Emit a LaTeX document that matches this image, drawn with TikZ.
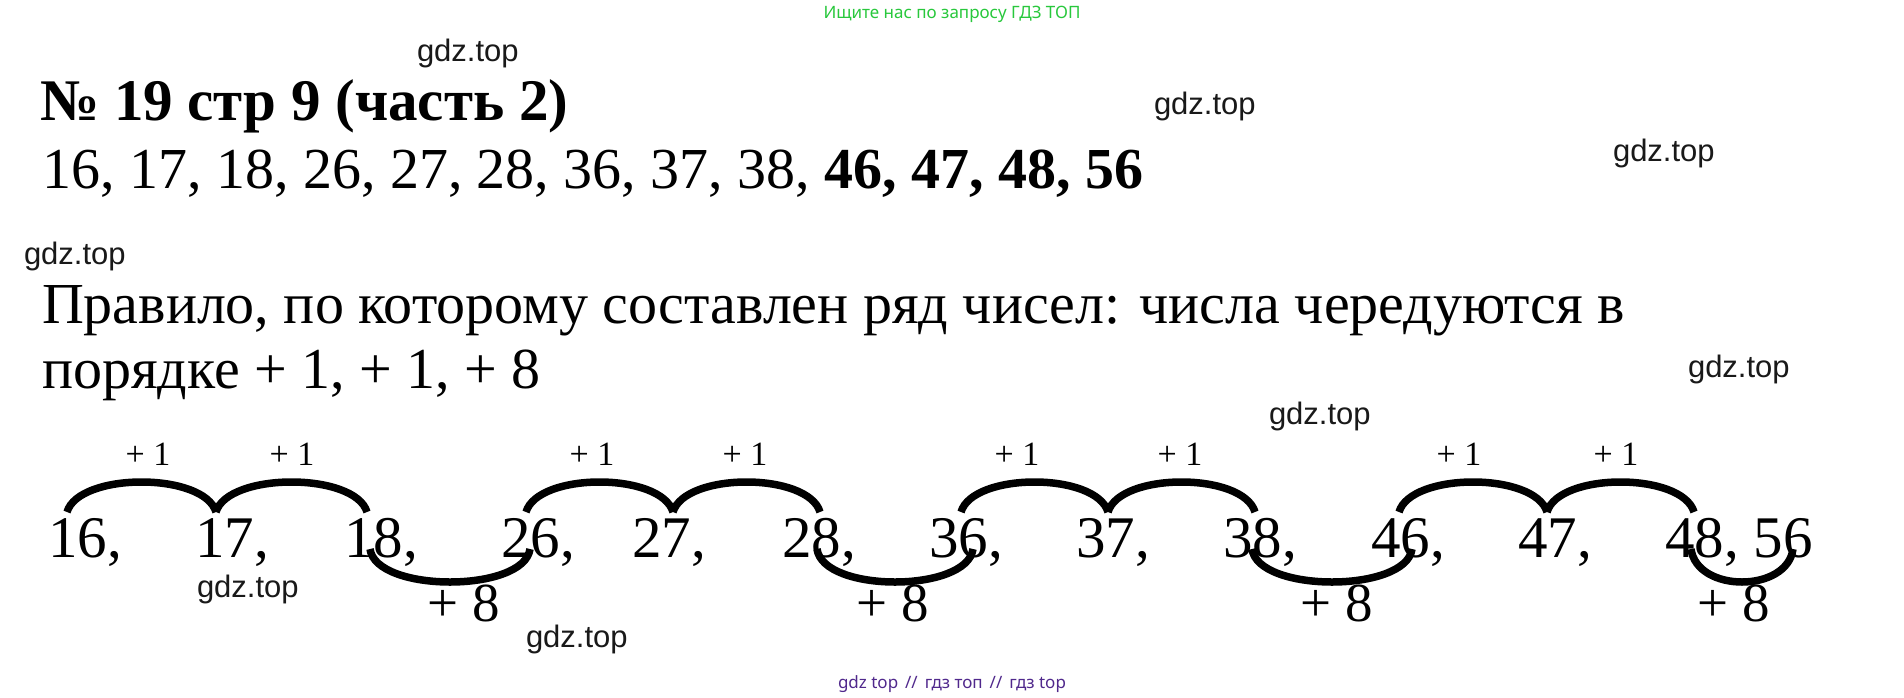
\documentclass[tikz,border=0pt]{standalone}
\usepackage{fontspec}
\setmainfont{Liberation Serif}
\newfontfamily\wmfont{Liberation Sans}
\newfontfamily\nsfont{Noto Sans}
\definecolor{wmgreen}{RGB}{40,200,60}
\definecolor{wmpurple}{RGB}{80,40,140}
\definecolor{wmgray}{RGB}{25,25,25}
\begin{document}
\begin{tikzpicture}[x=1pt,y=-1pt,
  txt/.style={inner sep=0pt,outer sep=0pt,anchor=base west},
  big/.style={txt,font=\fontsize{58}{58}\selectfont},
  num/.style={txt,font=\fontsize{59}{59}\selectfont},
  plusone/.style={inner sep=0pt,anchor=base,font=\fontsize{34}{34}\selectfont},
  pluseight/.style={inner sep=0pt,anchor=base,font=\fontsize{55}{55}\selectfont},
  wm/.style={txt,text=wmgray,font=\wmfont\fontsize{31}{31}\selectfont},
  arcline/.style={line width=7.5pt,black}]
\path[fill=white,use as bounding box] (0,0) rectangle (1904,697);

% watermarks
\node[inner sep=0pt,anchor=base,text=wmgreen,font=\nsfont\fontsize{17}{17}\selectfont] (top) at (952,18) {Ищите нас по запросу ГДЗ ТОП};
\node[txt,text=wmpurple,font=\nsfont\fontsize{17}{17}\selectfont] (bottom) at (838,688) {gdz top\hspace{0.15em} //\hspace{0.15em} гдз топ\hspace{0.15em} //\hspace{0.15em} гдз top};
\node[wm] (w1) at (417,61) {gdz.top};
\node[wm] (w2) at (1154,114) {gdz.top};
\node[wm] (w3) at (1613,161) {gdz.top};
\node[wm] (w4) at (24,264) {gdz.top};
\node[wm] (w5) at (1688,377) {gdz.top};
\node[wm] (w6) at (1269,424) {gdz.top};
\node[wm] (w7) at (197,597) {gdz.top};
\node[wm] (w8) at (526,647) {gdz.top};

% heading and text
\node[txt,font=\fontsize{59}{59}\selectfont\bfseries] (title) at (40,120) {№ 19 стр 9 (часть 2)};
\node[big] (seq) at (42,188) {16, 17, 18, 26, 27, 28, 36, 37, 38, \textbf{46, 47, 48, 56}};
\node[big] (rule1) at (42,323) {Правило, по которому составлен ряд чисел: числа чередуются в};
\node[big] (rule2) at (42,388) {порядке + 1, + 1, + 8};

% diagram numbers
\node[num] (n16) at (48,557) {16,};
\node[num] (n17) at (195,557) {17,};
\node[num] (n18) at (344,557) {18,};
\node[num] (n26) at (501,557) {26,};
\node[num] (n27) at (632,557) {27,};
\node[num] (n28) at (782,557) {28,};
\node[num] (n36) at (929,557) {36,};
\node[num] (n37) at (1076,557) {37,};
\node[num] (n38) at (1223,557) {38,};
\node[num] (n46) at (1371,557) {46,};
\node[num] (n47) at (1518,557) {47,};
\node[num] (n48) at (1665,557) {48, 56};

% arc end points
\coordinate (t1) at (67,512);  \coordinate (t2) at (216,512); \coordinate (t3) at (367,512);
\coordinate (t4) at (526,512); \coordinate (t5) at (673,512); \coordinate (t6) at (820,512);
\coordinate (t7) at (961,512); \coordinate (t8) at (1108,512); \coordinate (t9) at (1255,512);
\coordinate (t10) at (1399,512); \coordinate (t11) at (1547,512); \coordinate (t12) at (1694,512);
\coordinate (b1) at (370,549); \coordinate (b2) at (530,549);
\coordinate (b3) at (817,549); \coordinate (b4) at (973,549);
\coordinate (b5) at (1252,549); \coordinate (b6) at (1412,549);
\coordinate (b7) at (1691,549); \coordinate (b8) at (1793,549);

% top arcs
\foreach \a/\b in {t1/t2,t2/t3,t4/t5,t5/t6,t7/t8,t8/t9,t10/t11,t11/t12}
  \draw[arcline] (\a) .. controls +(12,-40) and +(-12,-40) .. (\b);
% bottom arcs
\foreach \a/\b in {b1/b2,b3/b4,b5/b6,b7/b8}
  \draw[arcline] (\a) .. controls +(6,44) and +(-6,44) .. (\b);

% labels
\node[plusone] (p1) at (148,465) {+ 1};
\node[plusone] (p2) at (292,465) {+ 1};
\node[plusone] (p3) at (592,465) {+ 1};
\node[plusone] (p4) at (745,465) {+ 1};
\node[plusone] (p5) at (1017,465) {+ 1};
\node[plusone] (p6) at (1180,465) {+ 1};
\node[plusone] (p7) at (1459,465) {+ 1};
\node[plusone] (p8) at (1616,465) {+ 1};
\node[pluseight] (e1) at (464,621) {+ 8};
\node[pluseight] (e2) at (893,621) {+ 8};
\node[pluseight] (e3) at (1337,621) {+ 8};
\node[pluseight] (e4) at (1734,621) {+ 8};
\end{tikzpicture}
\end{document}
